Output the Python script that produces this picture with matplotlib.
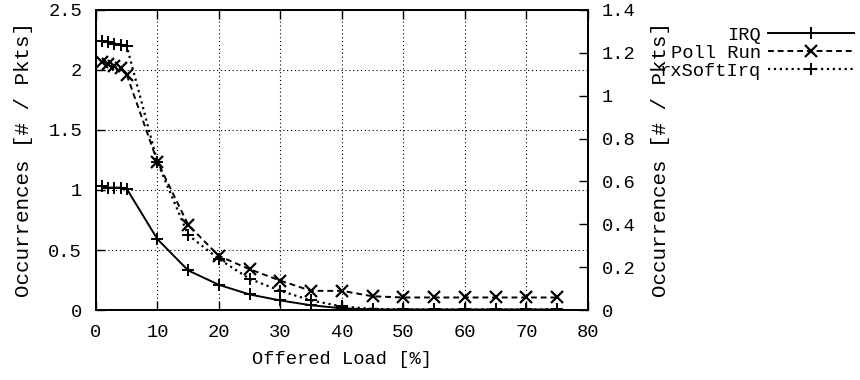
import matplotlib.pyplot as plt
from matplotlib.ticker import FuncFormatter, MultipleLocator

plt.rcParams['font.family'] = ['Liberation Mono', 'DejaVu Sans Mono']
plt.rcParams['font.size'] = 13.5

load = [1, 2, 3, 4, 5, 10, 15, 20, 25, 30, 35, 40, 45, 50, 55, 60, 65, 70, 75]
irq = [1.03, 1.02, 1.02, 1.02, 1.01, 0.59, 0.33, 0.21, 0.13, 0.08, 0.04, 0.015,
       0.005, 0.005, 0.005, 0.005, 0.005, 0.005, 0.005]
poll_run = [2.07, 2.05, 2.03, 2.02, 1.96, 1.235, 0.71, 0.45, 0.34, 0.245, 0.16, 0.16,
            0.115, 0.105, 0.105, 0.105, 0.105, 0.105, 0.105]
rx_softirq = [2.24, 2.23, 2.22, 2.21, 2.20, 1.23, 0.625, 0.425, 0.26, 0.16, 0.08, 0.03,
              0.01, 0.005, 0.005, 0.005, 0.005, 0.005, 0.005]

fig = plt.figure(figsize=(8.6, 3.8), dpi=100)
ax = fig.add_axes([0.1116, 0.184, 0.572, 0.79])

ax.plot(load, irq, '-', color='k', lw=1.4, marker='+', ms=9, mew=1.4, label='IRQ')
ax.plot(load, poll_run, '--', color='k', lw=1.4, marker='x', ms=8, mew=1.6,
        dashes=(3, 2), label='Poll Run')
ax.plot(load, rx_softirq, ':', color='k', lw=1.6, marker='+', ms=9, mew=1.4,
        label='rxSoftIrq')

fmt = FuncFormatter(lambda v, p: '%g' % v)

ax.set_xlim(0, 80)
ax.set_ylim(0, 2.5)
ax.xaxis.set_major_locator(MultipleLocator(10))
ax.yaxis.set_major_locator(MultipleLocator(0.5))
ax.yaxis.set_major_formatter(fmt)
ax.grid(True, linestyle=(0, (1, 2.5)), color='k', lw=0.8)
ax.tick_params(direction='in', length=6.5, width=1, top=True, right=True, pad=10)
ax.set_xlabel('Offered Load [%]', labelpad=7)
ax.set_ylabel('Occurrences [# / Pkts]', labelpad=11, fontsize=15)
for s in ax.spines.values():
    s.set_linewidth(1.3)

ax2 = ax.twinx()
ax2.set_ylim(0, 1.4)
ax2.yaxis.set_major_locator(MultipleLocator(0.2))
ax2.yaxis.set_major_formatter(fmt)
ax2.tick_params(direction='in', length=6.5, width=1, pad=10)
ax2.set_ylabel('Occurrences [# / Pkts]', labelpad=11, fontsize=15)
for s in ax2.spines.values():
    s.set_linewidth(1.3)

leg = ax.legend(loc='upper right', bbox_to_anchor=(0.993, 0.93),
                bbox_transform=fig.transFigure, markerfirst=False, frameon=False,
                handlelength=4.6, handletextpad=0.35, labelspacing=0.05,
                borderpad=0, borderaxespad=0)

fig.savefig('out.png', dpi=100)
